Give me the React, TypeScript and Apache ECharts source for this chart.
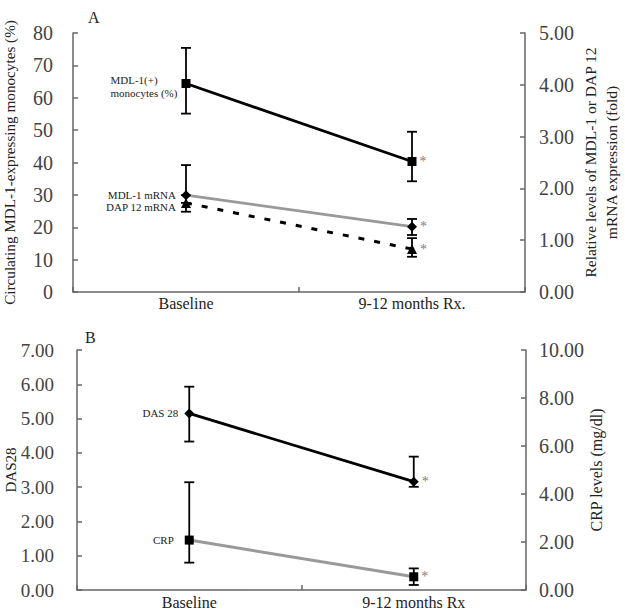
import React, { useEffect, useRef } from "react";
import * as echarts from "echarts";

const FONT = "Liberation Serif";

// Panel A
const categoriesA = ["Baseline", "9-12 months Rx."];
const mdlMonocytes = [64.4, 40.3];
const mdlMonocytesErr = [[55.1, 75.4], [34.2, 49.5]];
const mdlMrna = [1.87, 1.26];
const mdlMrnaErr = [[1.87, 2.45], [1.10, 1.41]];
const dapMrna = [1.72, 0.83];
const dapMrnaErr = [[1.55, 1.72], [0.68, 1.04]];
const leftTicksA = { min: 0, max: 80, interval: 10 };
const rightTicksA = { min: 0, max: 5, interval: 1 };

// Panel B
const categoriesB = ["Baseline", "9-12 months Rx"];
const das28 = [5.15, 3.16];
const das28Err = [[4.33, 5.93], [3.01, 3.89]];
const crp = [2.08, 0.55];
const crpErr = [[1.14, 4.49], [0.21, 0.9]];
const leftTicksB = { min: 0, max: 7, interval: 1 };
const rightTicksB = { min: 0, max: 10, interval: 2 };

function errorSeries(errs: number[][], xAxisIndex: number, yAxisIndex: number) {
  return {
    type: "custom",
    xAxisIndex,
    yAxisIndex,
    z: 3,
    silent: true,
    data: errs.map((e, i) => [i, e[0], e[1]]),
    renderItem: (params: any, api: any) => {
      const lo = api.coord([api.value(0), api.value(1)]);
      const hi = api.coord([api.value(0), api.value(2)]);
      const hw = 5;
      const style = { stroke: "#000", lineWidth: 1.8 };
      return {
        type: "group",
        children: [
          { type: "line", shape: { x1: lo[0], y1: lo[1], x2: hi[0], y2: hi[1] }, style },
          { type: "line", shape: { x1: lo[0] - hw, y1: lo[1], x2: lo[0] + hw, y2: lo[1] }, style },
          { type: "line", shape: { x1: hi[0] - hw, y1: hi[1], x2: hi[0] + hw, y2: hi[1] }, style },
        ],
      };
    },
  };
}

const star = {
  show: true,
  position: "right",
  distance: 3,
  formatter: "*",
  color: "#808080",
  fontSize: 14,
  fontFamily: FONT,
};

function withLabels(values: number[], firstLabel: any) {
  return values.map((v, i) => ({
    value: v,
    label: i === 0 ? firstLabel : star,
  }));
}

const axisLineStyle = { color: "#666", width: 1.5 };

function valueAxis(gridIndex: number, position: string, ticks: any, name: string, nameGap: number, decimals: number, fontSize: number, margin: number, nameSize: number) {
  return {
    type: "value",
    gridIndex,
    position,
    min: ticks.min,
    max: ticks.max,
    interval: ticks.interval,
    name,
    nameLocation: "middle",
    nameGap,
    nameMoveOverlap: false,
    nameTextStyle: { fontFamily: FONT, fontSize: nameSize, color: "#222", lineHeight: 21 },
    axisLine: { show: true, lineStyle: axisLineStyle },
    axisTick: { show: true, inside: true, length: 5, lineStyle: axisLineStyle },
    splitLine: { show: false },
    axisLabel: {
      fontFamily: FONT,
      fontSize,
      color: "#444",
      margin,
      formatter: (v: number) => v.toFixed(decimals),
    },
  };
}

function catAxis(gridIndex: number, data: string[], margin: number) {
  return {
    type: "category",
    gridIndex,
    data,
    boundaryGap: true,
    axisLine: { show: true, lineStyle: axisLineStyle },
    axisTick: { show: true, inside: true, length: 5, lineStyle: axisLineStyle },
    axisLabel: { fontFamily: FONT, fontSize: 16, color: "#222", margin },
    splitLine: { show: false },
  };
}

export default function App() {
  const ref = useRef<HTMLDivElement>(null);
  useEffect(() => {
    if (!ref.current) return;
    const chart = echarts.init(ref.current, undefined, { renderer: "svg" });
    const option: any = {
      animation: false,
      backgroundColor: "#fff",
      textStyle: { fontFamily: FONT },
      title: [
        { text: "A", left: 83, top: 4, textStyle: { fontFamily: FONT, fontSize: 16, fontWeight: "normal", color: "#222" } },
        { text: "B", left: 80, top: 324, textStyle: { fontFamily: FONT, fontSize: 16, fontWeight: "normal", color: "#222" } },
      ],
      grid: [
        { left: 73, right: 100, top: 33, height: 259, outerBoundsMode: "none", containLabel: false },
        { left: 77, right: 99, top: 350, height: 240, outerBoundsMode: "none", containLabel: false },
      ],
      xAxis: [catAxis(0, categoriesA, 3), catAxis(1, categoriesB, 4)],
      yAxis: [
        valueAxis(0, "left", leftTicksA, "Circulating MDL-1-expressing monocytes (%)", 53, 0, 20, 20, 15.2),
        valueAxis(0, "right", rightTicksA, "Relative levels of MDL-1 or DAP 12\nmRNA expression (fold)", 55, 2, 20, 14, 15.5),
        valueAxis(1, "left", leftTicksB, "DAS28", 56, 2, 19, 23, 15),
        valueAxis(1, "right", rightTicksB, "CRP levels (mg/dl)", 60, 2, 20, 13, 16),
      ],
      series: [
        errorSeries(mdlMonocytesErr, 0, 0),
        errorSeries(mdlMrnaErr, 0, 1),
        errorSeries(dapMrnaErr, 0, 1),
        errorSeries(das28Err, 1, 2),
        errorSeries(crpErr, 1, 3),
        {
          type: "line",
          name: "MDL-1(+) monocytes (%)",
          xAxisIndex: 0,
          yAxisIndex: 0,
          z: 4,
          symbol: "rect",
          symbolSize: 9,
          itemStyle: { color: "#000" },
          lineStyle: { color: "#000", width: 2.8 },
          data: withLabels(mdlMonocytes, {
            show: true,
            position: [-71, -6],
            align: "left",
            verticalAlign: "top",
            formatter: "MDL-1(+)\nmonocytes (%)",
            fontFamily: FONT,
            fontSize: 11,
            lineHeight: 13,
            color: "#222",
          }),
        },
        {
          type: "line",
          name: "MDL-1 mRNA",
          xAxisIndex: 0,
          yAxisIndex: 1,
          z: 4,
          symbol: "diamond",
          symbolSize: 10,
          itemStyle: { color: "#000" },
          lineStyle: { color: "#999", width: 2.8 },
          data: withLabels(mdlMrna, {
            show: true,
            position: "left",
            distance: 5,
            formatter: "MDL-1 mRNA",
            fontFamily: FONT,
            fontSize: 11,
            color: "#222",
          }),
        },
        {
          type: "line",
          name: "DAP 12 mRNA",
          xAxisIndex: 0,
          yAxisIndex: 1,
          z: 4,
          symbol: "triangle",
          symbolSize: 10,
          itemStyle: { color: "#000" },
          lineStyle: { color: "#000", width: 3, type: [6, 10] },
          data: withLabels(dapMrna, {
            show: true,
            position: "left",
            distance: 5,
            offset: [0, 4],
            formatter: "DAP 12 mRNA",
            fontFamily: FONT,
            fontSize: 11,
            color: "#222",
          }),
        },
        {
          type: "line",
          name: "DAS 28",
          xAxisIndex: 1,
          yAxisIndex: 2,
          z: 4,
          symbol: "diamond",
          symbolSize: 10,
          itemStyle: { color: "#000" },
          lineStyle: { color: "#000", width: 2.8 },
          data: withLabels(das28, {
            show: true,
            position: "left",
            distance: 6,
            formatter: "DAS 28",
            fontFamily: FONT,
            fontSize: 11,
            color: "#222",
          }),
        },
        {
          type: "line",
          name: "CRP",
          xAxisIndex: 1,
          yAxisIndex: 3,
          z: 4,
          symbol: "rect",
          symbolSize: 9,
          itemStyle: { color: "#000" },
          lineStyle: { color: "#999", width: 3 },
          data: withLabels(crp, {
            show: true,
            position: "left",
            distance: 11,
            formatter: "CRP",
            fontFamily: FONT,
            fontSize: 11,
            color: "#222",
          }),
        },
      ],
    };
    chart.setOption(option);
    return () => chart.dispose();
  }, []);
  return (
    <div
      ref={ref}
      style={{ position: "fixed", left: 0, top: 0, width: 625, height: 615, background: "#fff" }}
    />
  );
}
